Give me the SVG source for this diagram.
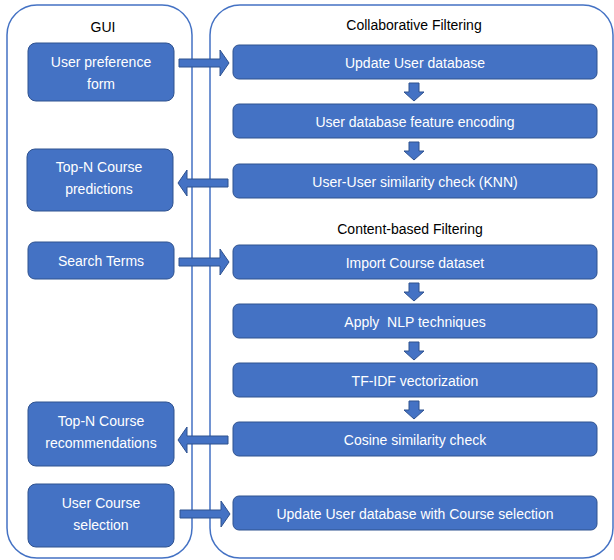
<svg xmlns="http://www.w3.org/2000/svg" width="614" height="560" viewBox="0 0 614 560">
<style>
.cont{fill:#fff;stroke:#4472C4;stroke-width:1.5}
.node{fill:#4472C4;stroke:#2F528F;stroke-width:1}
.t{font-family:"Liberation Sans",Arial,sans-serif;font-size:14px;fill:#fff;text-anchor:middle;dominant-baseline:central}
.h{font-family:"Liberation Sans",Arial,sans-serif;font-size:14px;fill:#000;text-anchor:middle;dominant-baseline:central}
.arr{fill:#4472C4;stroke:#2F528F;stroke-width:1}
</style>
<g id="gui-container"><rect class="cont" x="7" y="5" width="185" height="553" rx="30"/><text class="h" x="103" y="27">GUI</text></g>
<g id="filter-container"><rect class="cont" x="210" y="5" width="403" height="553" rx="30"/><text class="h" x="414" y="25">Collaborative Filtering</text><text class="h" x="410" y="229">Content-based Filtering</text></g>

<g id="n-pref"><rect class="node" x="28" y="43" width="146" height="58" rx="8"/><text class="t" x="101" y="62">User preference</text><text class="t" x="101" y="84">form</text></g>
<g id="n-pred"><rect class="node" x="27" y="149" width="146" height="62" rx="8"/><text class="t" x="99" y="167">Top-N Course</text><text class="t" x="99" y="189">predictions</text></g>
<g id="n-search"><rect class="node" x="28" y="242" width="146" height="37" rx="7"/><text class="t" x="101" y="261">Search Terms</text></g>
<g id="n-rec"><rect class="node" x="28" y="402" width="146" height="64" rx="8"/><text class="t" x="101" y="421">Top-N Course</text><text class="t" x="101" y="443">recommendations</text></g>
<g id="n-sel"><rect class="node" x="28" y="484" width="146" height="63" rx="8"/><text class="t" x="101" y="503">User Course</text><text class="t" x="101" y="525">selection</text></g>

<g id="n-update"><rect class="node" x="233" y="45" width="364" height="34" rx="6"/><text class="t" x="415" y="63">Update User database</text></g>
<g id="n-encode"><rect class="node" x="233" y="104" width="364" height="34" rx="6"/><text class="t" x="415" y="122">User database feature encoding</text></g>
<g id="n-knn"><rect class="node" x="233" y="164" width="364" height="34" rx="6"/><text class="t" x="415" y="182">User-User similarity check (KNN)</text></g>
<g id="n-import"><rect class="node" x="233" y="245" width="364" height="34" rx="6"/><text class="t" x="415" y="263">Import Course dataset</text></g>
<g id="n-nlp"><rect class="node" x="233" y="304" width="364" height="34" rx="6"/><text class="t" x="415" y="322" xml:space="preserve">Apply  NLP techniques</text></g>
<g id="n-tfidf"><rect class="node" x="233" y="363" width="364" height="34" rx="6"/><text class="t" x="415" y="381">TF-IDF vectorization</text></g>
<g id="n-cos"><rect class="node" x="233" y="422" width="364" height="34" rx="6"/><text class="t" x="415" y="440">Cosine similarity check</text></g>
<g id="n-updsel"><rect class="node" x="233" y="496" width="364" height="34" rx="6"/><text class="t" x="415" y="514">Update User database with Course selection</text></g>

<g id="connectors">
<path class="arr" d="M179 59h41v-9l9 13l-9 13v-9h-41z"/>
<path class="arr" d="M228 179h-41v-9l-9 13l9 13v-9h41z"/>
<path class="arr" d="M179 258h41v-9l9 13l-9 13v-9h-41z"/>
<path class="arr" d="M228 436h-41v-9l-9 13l9 13v-9h41z"/>
<path class="arr" d="M180 510h41v-9l9 13l-9 13v-9h-41z"/>
<path class="arr" d="M409 83h10v9h5l-10 9l-10-9h5z"/>
<path class="arr" d="M409 142h10v9h5l-10 9l-10-9h5z"/>
<path class="arr" d="M409 283h10v9h5l-10 9l-10-9h5z"/>
<path class="arr" d="M409 342h10v9h5l-10 9l-10-9h5z"/>
<path class="arr" d="M409 401h10v9h5l-10 9l-10-9h5z"/>
</g>
</svg>
